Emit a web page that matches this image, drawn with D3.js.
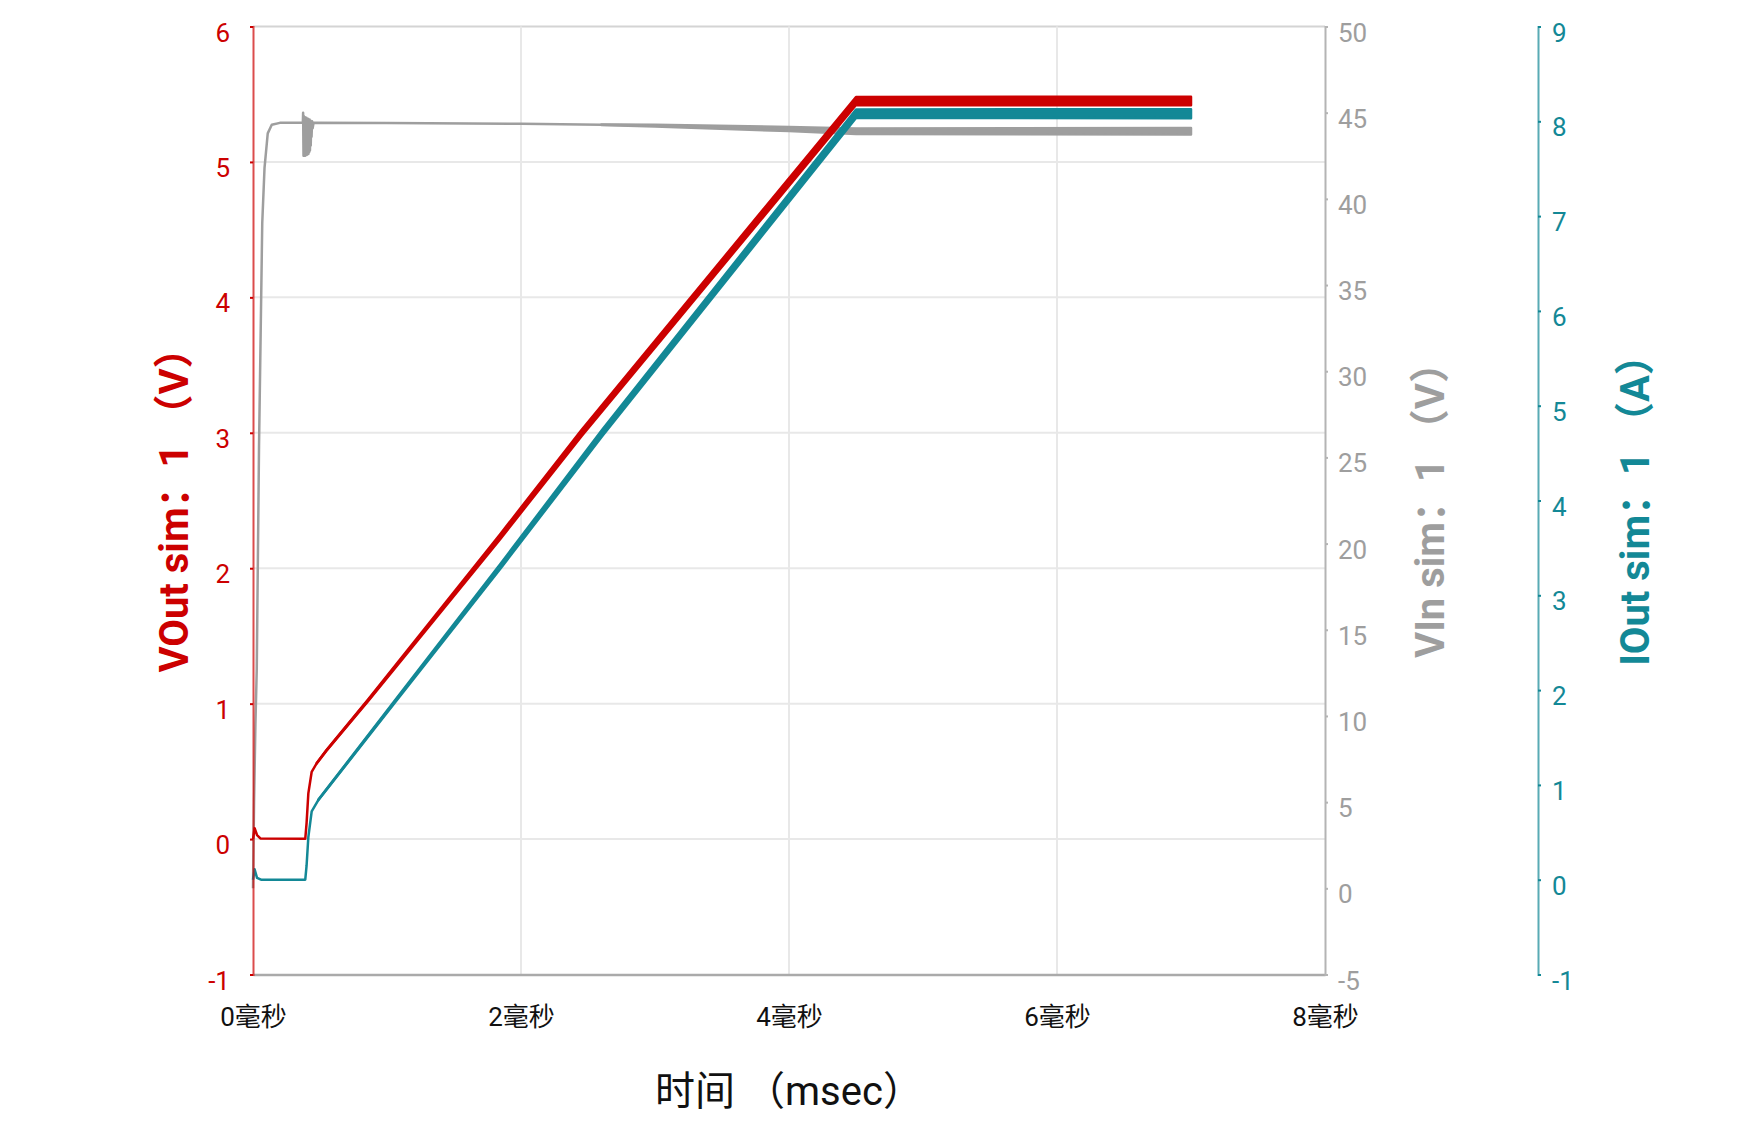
<!DOCTYPE html>
<html>
<head>
<meta charset="utf-8">
<script src="https://cdn.jsdelivr.net/npm/d3@7/dist/d3.min.js"></script>
<style>
  body { margin: 0; background: #fff; }
  text { font-family: Roboto, "Noto Sans CJK SC", sans-serif; }
</style>
</head>
<body>
<div id="chart"></div>
<script>
// ---- data ----
var timeTicks = [0, 2, 4, 6, 8];
var timeUnit = "毫秒";
var vOutTicks = [-1, 0, 1, 2, 3, 4, 5, 6];
var vInTicks = [-5, 0, 5, 10, 15, 20, 25, 30, 35, 40, 45, 50];
var iOutTicks = [-1, 0, 1, 2, 3, 4, 5, 6, 7, 8, 9];

var xTitle = "时间 （msec）";
var vOutTitle = "VOut sim：1 （V）";
var vInTitle = "VIn sim：1 （V）";
var iOutTitle = "IOut sim：1 （A）";

// [time (ms), value, ripple half-amplitude]
var vOutData = [
  [0, 0.0, 0], [0.012, 0.08, 0], [0.03, 0.03, 0], [0.055, 0.005, 0],
  [0.39, 0.002, 0], [0.40, 0.12, 0], [0.413, 0.337, 0], [0.438, 0.497, 0],
  [0.475, 0.559, 0.001], [0.55, 0.657, 0.003], [0.86, 1.026, 0.007],
  [1.843, 2.231, 0.018], [2.453, 3.0, 0.023], [4.5, 5.45, 0.03], [7.0, 5.45, 0.032]
];

var iOutData = [
  [0, 0.0, 0], [0.012, 0.11, 0], [0.03, 0.02, 0], [0.06, 0.0, 0],
  [0.39, 0.0, 0], [0.40, 0.15, 0], [0.413, 0.45, 0], [0.438, 0.72, 0],
  [0.487, 0.84, 0.002], [1.07, 1.90, 0.012], [1.843, 3.30, 0.025],
  [2.61, 4.72, 0.034], [4.5, 8.08, 0.045], [7.0, 8.08, 0.048]
];

var vInData = [
  [0, 0, 0], [0.008, 5, 0], [0.018, 9.5, 0], [0.028, 12.7, 0], [0.045, 25.7, 0],
  [0.057, 32.1, 0], [0.069, 38.6, 0], [0.086, 41.8, 0], [0.11, 43.8, 0],
  [0.14, 44.3, 0], [0.2, 44.41, 0], [0.372, 44.41, 0],
  [0.374, 45.0, 0], [0.377, 42.5, 0], [0.380, 44.8, 0], [0.383, 42.5, 0],
  [0.386, 44.75, 0], [0.389, 42.5, 0], [0.392, 44.7, 0], [0.395, 42.55, 0],
  [0.398, 44.7, 0], [0.401, 42.55, 0], [0.404, 44.65, 0], [0.407, 42.6, 0],
  [0.410, 44.65, 0], [0.413, 42.6, 0], [0.416, 44.6, 0], [0.419, 42.7, 0],
  [0.422, 44.6, 0], [0.425, 42.8, 0], [0.428, 44.55, 0], [0.431, 43.1, 0],
  [0.434, 44.5, 0], [0.437, 43.6, 0], [0.441, 44.5, 0], [0.445, 44.1, 0],
  [0.452, 44.41, 0],
  [1.0, 44.4, 0], [2.0, 44.36, 0], [2.6, 44.3, 0.02], [3.0, 44.25, 0.05],
  [4.0, 44.05, 0.12], [4.5, 43.92, 0.16], [7.0, 43.92, 0.19]
];

// ---- colours ----
var red = "#cc0000";
var teal = "#138896";
var grey = "#9e9e9e";

var width = 1750, height = 1125;

var svg = d3.select("#chart").append("svg")
    .attr("width", width)
    .attr("height", height);

// scales (plot area 253..1325 x 26.5..974.5)
var x = d3.scaleLinear().domain([0, 8]).range([253, 1325]);
var yOut = d3.scaleLinear().domain([-1, 6]).range([974.5, 26.5]);
var yIn = d3.scaleLinear().domain([-5, 50]).range([974.5, 26.5]);
var yI = d3.scaleLinear().domain([-1, 9]).range([974.5, 26.5]);

// plain labels with a hyphen minus, as in the reference
var plain = function(d){ return String(d); };

// grid lines
var grid = svg.append("g").attr("class", "grid");
grid.selectAll("line.h")
    .data(vOutTicks.filter(function(d){ return d > -1; }))
    .enter().append("line")
    .attr("x1", x(0)).attr("x2", x(8))
    .attr("y1", function(d){ return yOut(d); })
    .attr("y2", function(d){ return yOut(d); })
    .attr("stroke", function(d){ return d == 6 ? "#d4d4d4" : "#e8e8e8"; })
    .attr("stroke-width", 2);
grid.selectAll("line.v")
    .data(timeTicks.filter(function(d){ return d > 0 && d < 8; }))
    .enter().append("line")
    .attr("y1", yOut(6)).attr("y2", yOut(-1))
    .attr("x1", function(d){ return x(d); })
    .attr("x2", function(d){ return x(d); })
    .attr("stroke", "#e8e8e8")
    .attr("stroke-width", 2);

// bottom time axis
var xAxis = svg.append("g")
    .attr("transform", "translate(0," + yOut(-1) + ")")
    .call(d3.axisBottom(x).tickValues(timeTicks).tickSize(0)
          .tickFormat(function(d){ return d + timeUnit; }));
xAxis.select(".domain").attr("stroke", "#aaaaaa").attr("stroke-width", 2.5);
xAxis.selectAll("text")
    .attr("y", 51).attr("dy", 0)
    .attr("fill", "#111").style("font-size", "26px");

// right VIn axis
var inAxis = svg.append("g")
    .attr("transform", "translate(" + x(8) + ",0)")
    .call(d3.axisRight(yIn).tickValues(vInTicks).tickSize(3).tickPadding(10).tickFormat(plain));
inAxis.select(".domain").attr("stroke", "#b4b4b4").attr("stroke-width", 2);
inAxis.selectAll(".tick line").attr("stroke", "#b4b4b4").attr("stroke-width", 2);
inAxis.selectAll("text").attr("fill", grey).attr("dy", "0.56em").style("font-size", "26px");

// far right IOut axis
var iAxis = svg.append("g")
    .attr("transform", "translate(1538,0)")
    .call(d3.axisRight(yI).tickValues(iOutTicks).tickSize(3).tickPadding(11).tickFormat(plain));
iAxis.select(".domain").attr("stroke", teal).attr("stroke-opacity", 0.7).attr("stroke-width", 2);
iAxis.selectAll(".tick line").attr("stroke", teal).attr("stroke-width", 2);
iAxis.selectAll("text").attr("fill", teal).attr("dy", "0.56em").style("font-size", "26px");

// series: a thin line plus a band for the switching ripple
function drawSeries(data, yScale, colour) {
    var area = d3.area()
        .x(function(d){ return x(d[0]); })
        .y0(function(d){ return yScale(d[1] - d[2]); })
        .y1(function(d){ return yScale(d[1] + d[2]); });
    var line = d3.line()
        .x(function(d){ return x(d[0]); })
        .y(function(d){ return yScale(d[1]); });
    var g = svg.append("g");
    g.append("path").datum(data.filter(function(d){ return d[2] > 0; }))
        .attr("d", area)
        .attr("fill", colour)
        .attr("stroke", colour)
        .attr("stroke-width", 2.5)
        .attr("stroke-linejoin", "round");
    g.append("path").datum(data)
        .attr("d", line)
        .attr("fill", "none")
        .attr("stroke", colour)
        .attr("stroke-width", 2.5)
        .attr("stroke-linejoin", "round");
}

drawSeries(vInData, yIn, grey);
drawSeries(vOutData, yOut, red);
drawSeries(iOutData, yI, teal);

// left VOut axis (drawn on top)
var outAxis = svg.append("g")
    .attr("transform", "translate(" + x(0) + ",0)")
    .call(d3.axisLeft(yOut).tickValues(vOutTicks).tickSize(3).tickPadding(20).tickFormat(plain));
outAxis.select(".domain").attr("stroke", red).attr("stroke-opacity", 0.7).attr("stroke-width", 2);
outAxis.selectAll(".tick line").attr("stroke", red).attr("stroke-width", 2);
outAxis.selectAll("text").attr("fill", red).attr("dy", "0.56em").style("font-size", "26px");

// axis titles
var midY = (yOut(6) + yOut(-1)) / 2;
function vTitle(text, xPos, colour) {
    svg.append("text")
        .attr("transform", "translate(" + xPos + "," + midY + ") rotate(-90)")
        .attr("text-anchor", "middle")
        .attr("fill", colour)
        .style("font-size", "40px")
        .style("font-weight", "bold")
        .text(text);
}
vTitle(vOutTitle, 188, red);
vTitle(vInTitle, 1444, grey);
vTitle(iOutTitle, 1649, teal);

svg.append("text")
    .attr("x", (x(0) + x(8)) / 2)
    .attr("y", 1105)
    .attr("text-anchor", "middle")
    .attr("fill", "#111")
    .style("font-size", "40px")
    .text(xTitle);
</script>
</body>
</html>
